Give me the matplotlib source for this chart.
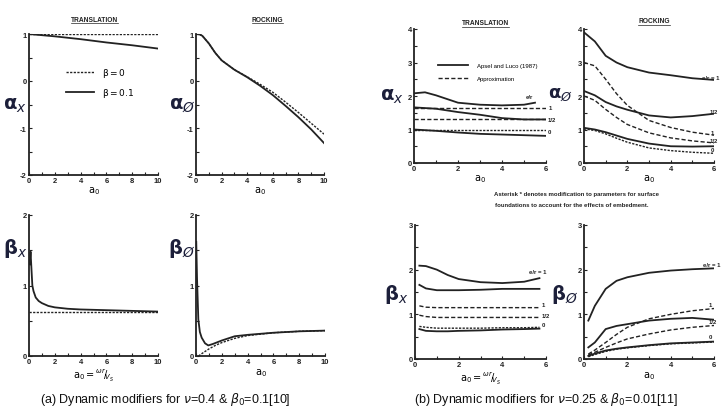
import matplotlib
matplotlib.use("Agg")
import matplotlib.pyplot as plt
from matplotlib.ticker import MultipleLocator
from matplotlib.lines import Line2D

plt.rcParams['font.family'] = ['Liberation Sans', 'DejaVu Sans']
plt.rcParams['mathtext.fontset'] = 'dejavusans'
plt.rcParams['axes.unicode_minus'] = False

INK = '#222222'
LBL = '#1c1f3a'

# ---- (a) nu=0.4, beta=0.1 ----
a_ax_x = [0, 2, 4, 6, 8, 10]
a_ax_b0 = [1, 1, 1, 1, 1, 1]
a_ax_b01 = [1.0, 0.95, 0.89, 0.82, 0.76, 0.69]

a_ar_x = [0, 0.3, 0.5, 1, 1.5, 2, 3, 4, 5, 6, 7, 8, 9, 10]
a_ar_b0 = [1.0, 0.99, 0.96, 0.8, 0.6, 0.44, 0.24, 0.09, -0.07, -0.24, -0.45, -0.67, -0.9, -1.13]
a_ar_b01 = [1.0, 0.99, 0.96, 0.8, 0.6, 0.44, 0.24, 0.08, -0.1, -0.3, -0.53, -0.77, -1.03, -1.32]

a_bx_x = [0.05, 0.12, 0.2, 0.26, 0.35, 0.52, 0.75, 1, 1.5, 2, 3, 4, 6, 8, 10]
a_bx_b01 = [1.3, 1.48, 1.2, 1.0, 0.92, 0.83, 0.78, 0.75, 0.71, 0.69, 0.67, 0.66, 0.65, 0.64, 0.63]
a_bx_b0 = 0.63

a_br_x = [0.02, 0.08, 0.18, 0.3, 0.44, 0.7, 0.95, 1.3, 2, 3, 4, 6, 8, 10]
a_br_b01 = [1.62, 1.1, 0.52, 0.34, 0.26, 0.18, 0.15, 0.17, 0.22, 0.28, 0.30, 0.33, 0.35, 0.36]
a_br_x0 = [0.2, 0.5, 1, 1.5, 2, 3, 4, 6, 8, 10]
a_br_b0 = [0.0, 0.04, 0.1, 0.15, 0.19, 0.25, 0.29, 0.33, 0.35, 0.36]

# ---- (b) nu=0.25, beta=0.01 ----
b_ax_x = [0, 0.5, 1, 2, 3, 4, 5, 5.5]
b_ax_apsel1 = [2.08, 2.11, 2.02, 1.80, 1.74, 1.72, 1.74, 1.80]
b_ax_x2 = [0, 1, 2, 3, 4, 5, 6]
b_ax_apsel_half = [1.66, 1.62, 1.52, 1.44, 1.34, 1.30, 1.30]
b_ax_apsel0 = [1.0, 0.96, 0.91, 0.87, 0.85, 0.83, 0.81]
b_ax_approx = {'1': 1.65, '1/2': 1.31, '0': 0.99}

b_ar_x = [0, 0.5, 1, 1.5, 2, 3, 4, 5, 6]
b_ar_apsel1 = [3.9, 3.63, 3.2, 3.0, 2.86, 2.7, 2.62, 2.53, 2.48]
b_ar_apsel_half = [2.15, 2.02, 1.82, 1.69, 1.59, 1.42, 1.36, 1.40, 1.47]
b_ar_apsel0 = [1.05, 1.0, 0.92, 0.82, 0.72, 0.58, 0.5, 0.49, 0.5]
b_ar_approx1 = [3.0, 2.9, 2.5, 2.07, 1.72, 1.27, 1.06, 0.92, 0.83]
b_ar_approx_half = [2.0, 1.87, 1.6, 1.36, 1.15, 0.9, 0.75, 0.66, 0.6]
b_ar_approx0 = [1.02, 0.97, 0.87, 0.74, 0.62, 0.45, 0.37, 0.32, 0.29]

b_bx_x = [0.2, 0.5, 1, 1.5, 2, 3, 4, 5, 5.7]
b_bx_apsel1 = [2.09, 2.08, 2.0, 1.88, 1.79, 1.72, 1.70, 1.73, 1.81]
b_bx_apsel_half = [1.66, 1.58, 1.54, 1.54, 1.54, 1.55, 1.57, 1.57, 1.57]
b_bx_apsel0 = [0.67, 0.63, 0.62, 0.62, 0.63, 0.64, 0.66, 0.67, 0.68]
b_bx_approx1 = [1.19, 1.16, 1.15, 1.15, 1.15, 1.15, 1.15, 1.15, 1.15]
b_bx_approx_half = [0.98, 0.95, 0.93, 0.93, 0.93, 0.93, 0.93, 0.93, 0.93]
b_bx_approx0 = [0.73, 0.71, 0.69, 0.69, 0.69, 0.69, 0.7, 0.7, 0.71]

b_br_x = [0.2, 0.5, 1, 1.5, 2, 3, 4, 5, 6]
b_br_apsel1 = [0.86, 1.19, 1.57, 1.75, 1.83, 1.93, 1.98, 2.01, 2.03]
b_br_apsel_half = [0.26, 0.37, 0.67, 0.74, 0.78, 0.86, 0.9, 0.92, 0.88]
b_br_apsel0 = [0.07, 0.12, 0.19, 0.23, 0.26, 0.31, 0.35, 0.37, 0.39]
b_br_approx1 = [0.11, 0.2, 0.37, 0.55, 0.71, 0.9, 1.0, 1.08, 1.13]
b_br_approx_half = [0.09, 0.15, 0.26, 0.36, 0.45, 0.56, 0.65, 0.71, 0.75]
b_br_approx0 = [0.05, 0.1, 0.17, 0.22, 0.25, 0.3, 0.34, 0.36, 0.38]

fig = plt.figure(figsize=(7.24, 4.10), dpi=100)
W, H = 724.0, 410.0


def make_ax(x0, x1, ytop, ybot, xmax, ymin, ymax):
    ax = fig.add_axes([x0 / W, 1 - ybot / H, (x1 - x0) / W, (ybot - ytop) / H])
    ax.set_xlim(0, xmax)
    ax.set_ylim(ymin, ymax)
    for s in ['top', 'right']:
        ax.spines[s].set_visible(False)
    for s in ['left', 'bottom']:
        ax.spines[s].set_linewidth(1.3)
        ax.spines[s].set_color(INK)
    ax.xaxis.set_major_locator(MultipleLocator(2))
    ax.xaxis.set_minor_locator(MultipleLocator(1))
    ax.yaxis.set_major_locator(MultipleLocator(1))
    ax.yaxis.set_minor_locator(MultipleLocator(0.5))
    ax.tick_params(which='both', direction='in', length=2.5, width=0.8, colors=INK,
                   labelsize=5.5, pad=1.5)
    for t in ax.get_xticklabels() + ax.get_yticklabels():
        t.set_fontweight('bold')
    return ax


def ylab(ax, txt, fx, fy, size=14):
    ax.text(fx, fy, txt, transform=ax.transAxes, fontsize=size, color=LBL,
            ha='center', va='center')


def title(ax, txt, fx, fy):
    ax.text(fx, fy, txt, transform=ax.transAxes, fontsize=4.8, fontweight='bold',
            ha='center', va='center', color=INK)


solid = dict(color=INK, lw=1.3, ls='-')
dashed = dict(color=INK, lw=1.0, ls=(0, (3, 1.6)))
fine = dict(color=INK, lw=1.0, ls=(0, (1.6, 1.0)))
small = dict(fontsize=4.3, fontweight='bold', color=INK, clip_on=False, va='center')

# (a) top left
ax = make_ax(29, 158, 35, 176, 10, -2, 1)
ax.plot(a_ax_x, a_ax_b0, **fine, label=r'$\mathrm{\beta = 0}$')
ax.plot(a_ax_x, a_ax_b01, **solid, label=r'$\mathrm{\beta = 0.1}$')
ax.legend(loc='upper left', bbox_to_anchor=(0.22, 0.83), frameon=False, fontsize=6.5,
          handlelength=3.2, labelspacing=0.8, handletextpad=0.8)
ax.set_xlabel(r'$\mathrm{a_0}$', fontsize=7, labelpad=0)
ylab(ax, r'$\mathbf{\alpha}_x$', -0.11, 0.5)
title(ax, 'TRANSLATION', 0.51, 1.105)

# (a) top right
ax = make_ax(196, 324, 35, 176, 10, -2, 1)
ax.plot(a_ar_x, a_ar_b0, **fine)
ax.plot(a_ar_x, a_ar_b01, **solid)
ax.set_xlabel(r'$\mathrm{a_0}$', fontsize=7, labelpad=0)
ylab(ax, r'$\mathbf{\alpha}_{\O}$', -0.11, 0.5)
title(ax, 'ROCKING', 0.56, 1.105)

# (a) bottom left
ax = make_ax(29, 158, 216, 357, 10, 0, 2)
ax.axhline(a_bx_b0, **fine)
ax.plot(a_bx_x, a_bx_b01, **solid)
ax.set_xlabel(r'$\mathrm{a_0} = {}^{\omega r}\!/\!_{V_S}$', fontsize=7, labelpad=1)
ylab(ax, r'$\mathbf{\beta}_x$', -0.11, 0.77)

# (a) bottom right
ax = make_ax(196, 325, 216, 357, 10, 0, 2)
ax.plot(a_br_x0, a_br_b0, **fine)
ax.plot(a_br_x, a_br_b01, **solid)
ax.set_xlabel(r'$\mathrm{a_0}$', fontsize=7, labelpad=1)
ylab(ax, r'$\mathbf{\beta}_{\O}$', -0.11, 0.77)

# (b) top left
ax = make_ax(414, 546, 30, 164, 6, 0, 4)
ax.plot(b_ax_x, b_ax_apsel1, **solid, label='Apsel and Luco (1987)')
ax.plot(b_ax_x2, [b_ax_approx['1']] * len(b_ax_x2), **dashed, label='Approximation')
ax.plot(b_ax_x2, b_ax_apsel_half, **solid)
ax.plot(b_ax_x2, [b_ax_approx['1/2']] * len(b_ax_x2), **dashed)
ax.plot(b_ax_x2, b_ax_apsel0, **solid)
ax.plot(b_ax_x2, [b_ax_approx['0']] * len(b_ax_x2), **fine)
ax.legend(loc='upper left', bbox_to_anchor=(0.14, 0.79), frameon=False, fontsize=4.3,
          handlelength=5, labelspacing=1.3, handletextpad=1.5)
ax.text(5.1, 1.98, 'e/r', **small)
ax.text(6.12, 1.65, '1', **small)
ax.text(6.08, 1.31, '1/2', **small)
ax.text(6.08, 0.95, '0', **small)
ax.set_xlabel(r'$\mathrm{a_0}$', fontsize=7, labelpad=0)
ylab(ax, r'$\mathbf{\alpha}_x$', -0.17, 0.5)
title(ax, 'TRANSLATION', 0.54, 1.045)

# (b) top right
ax = make_ax(584, 714, 30, 164, 6, 0, 4)
ax.plot(b_ar_x, b_ar_apsel1, **solid)
ax.plot(b_ar_x, b_ar_approx1, **dashed)
ax.plot(b_ar_x, b_ar_apsel_half, **solid)
ax.plot(b_ar_x, b_ar_approx_half, **dashed)
ax.plot(b_ar_x, b_ar_apsel0, **solid)
ax.plot(b_ar_x, b_ar_approx0, **fine)
ax.text(5.45, 2.55, 'e/r = 1', **small)
ax.text(5.8, 1.53, '1/2', **small)
ax.text(5.85, 0.9, '1', **small)
ax.text(5.8, 0.68, '1/2', **small)
ax.text(5.85, 0.4, '0', **small)
ax.set_xlabel(r'$\mathrm{a_0}$', fontsize=7, labelpad=0)
ylab(ax, r'$\mathbf{\alpha}_{\O}$', -0.185, 0.52, size=13)
title(ax, 'ROCKING', 0.54, 1.06)

# (b) bottom left
ax = make_ax(415, 546, 226, 360, 6, 0, 3)
ax.plot(b_bx_x, b_bx_apsel1, **solid)
ax.plot(b_bx_x, b_bx_apsel_half, **solid)
ax.plot(b_bx_x, b_bx_approx1, **dashed)
ax.plot(b_bx_x, b_bx_approx_half, **dashed)
ax.plot(b_bx_x, b_bx_approx0, **fine)
ax.plot(b_bx_x, b_bx_apsel0, **solid)
ax.text(5.2, 1.96, 'e/r = 1', **small)
ax.text(5.8, 1.22, '1', **small)
ax.text(5.8, 0.97, '1/2', **small)
ax.text(5.8, 0.77, '0', **small)
ax.set_xlabel(r'$\mathrm{a_0} = {}^{\omega r}\!/\!_{V_S}$', fontsize=7, labelpad=1)
ylab(ax, r'$\mathbf{\beta}_x$', -0.14, 0.49)

# (b) bottom right
ax = make_ax(584, 714, 226, 360, 6, 0, 3)
ax.plot(b_br_x, b_br_apsel1, **solid)
ax.plot(b_br_x, b_br_apsel_half, **solid)
ax.plot(b_br_x, b_br_approx1, **dashed)
ax.plot(b_br_x, b_br_approx_half, **dashed)
ax.plot(b_br_x, b_br_apsel0, **solid)
ax.plot(b_br_x, b_br_approx0, **fine)
ax.text(5.5, 2.12, 'e/r = 1', **small)
ax.text(5.75, 1.22, '1', **small)
ax.text(5.75, 0.84, '1/2', **small)
ax.text(5.75, 0.5, '0', **small)
ax.set_xlabel(r'$\mathrm{a_0}$', fontsize=7, labelpad=1)
ylab(ax, r'$\mathbf{\beta}_{\O}$', -0.15, 0.49)

# note and captions
fig.text(576 / W, 1 - 195 / H, 'Asterisk * denotes modification to parameters for surface',
         fontsize=4.3, fontweight='bold', ha='center', va='center', color=INK)
fig.text(572 / W, 1 - 206 / H, 'foundations to account for the effects of embedment.',
         fontsize=4.3, fontweight='bold', ha='center', va='center', color=INK)
fig.text(165 / W, 1 - 400 / H, r'(a) Dynamic modifiers for $\nu$=0.4 & $\beta_0$=0.1[10]',
         fontsize=9, ha='center', va='center', color='#111111')
fig.text(546 / W, 1 - 400 / H, r'(b) Dynamic modifiers for $\nu$=0.25 & $\beta_0$=0.01[11]',
         fontsize=9, ha='center', va='center', color='#111111')

# underline the panel titles
fig.canvas.draw()
r = fig.canvas.get_renderer()
for a in fig.axes:
    for t in a.texts:
        if t.get_text() in ('TRANSLATION', 'ROCKING'):
            bb = t.get_window_extent(r)
            fig.add_artist(Line2D([bb.x0 / W, bb.x1 / W], [(bb.y0 - 0.5) / H] * 2,
                                  lw=0.5, color=INK))

fig.savefig('out.png', dpi=100)
